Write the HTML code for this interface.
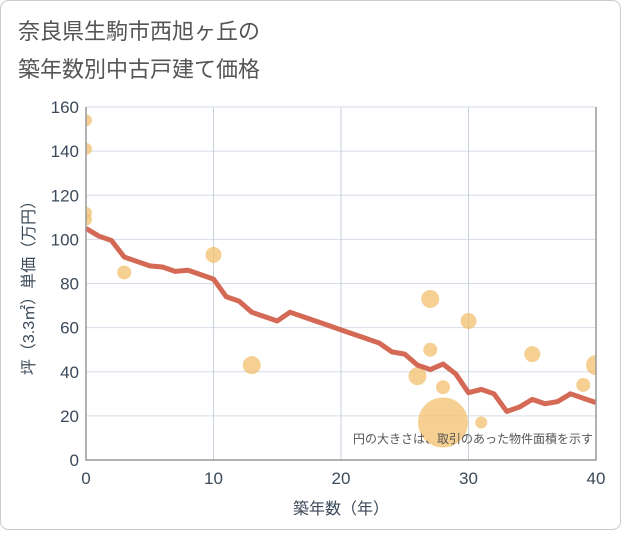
<!DOCTYPE html>
<html><head><meta charset="utf-8"><style>
body{margin:0;background:#fff}
#wrap{position:relative;width:621px;height:530px;font-family:"Liberation Sans","Noto Sans CJK JP",sans-serif}
</style></head><body>
<div id="wrap">
<svg width="621" height="530" id="svg">
<rect x="0.5" y="0.5" width="620" height="529" rx="8" fill="#fff" stroke="#ccc"/>
<text x="18" y="39" font-size="22" fill="#555">奈良県生駒市西旭ヶ丘の</text>
<text x="18" y="77" font-size="22" fill="#555">築年数別中古戸建て価格</text>
<g id="grid"></g><g id="marks"></g><g id="axes"></g>
<text x="593" y="443" font-size="12" fill="#555" text-anchor="end">円の大きさは、取引のあった物件面積を示す</text>
<text x="341" y="514" font-size="16" fill="#3b4a5a" text-anchor="middle">築年数（年）</text>
<text transform="translate(34,284) rotate(-90)" font-size="16" fill="#3b4a5a" text-anchor="middle">坪（3.3㎡）単価（万円）</text>
</svg></div>
<script>
const xTicks=[0,10,20,30,40];
const yTicks=[0,20,40,60,80,100,120,140,160];
const lineYears=[0,1,2,3,4,5,6,7,8,9,10,11,12,13,14,15,16,17,18,19,20,21,22,23,24,25,26,27,28,29,30,31,32,33,34,35,36,37,38,39,40];
const linePrices=[105,101.5,99.5,92,90,88,87.5,85.5,86,84,82,74,72,67,65,63,67,65,63,61,59,57,55,53,49,48,43,41,43.5,39,30.5,32,30,22,24,27.5,25.5,26.5,30,28,26];
const bubbleAges=[0,0,0,0,3,10,13,26,27,27,28,28,30,31,35,39,40];
const bubblePrices=[154,141,112,109,85,93,43,38,73,50,33,17,63,17,48,34,43];
const bubbleSizes=[6,6,6,6,7,8,9,9,9,7,7,25,8,6,8,7,10];
const X0=86,X1=596,Y0=460,Y1=107;
const sx=v=>X0+(X1-X0)*v/40, sy=v=>Y0-(Y0-Y1)*v/160;
const NS="http://www.w3.org/2000/svg";
function mk(t,p,g){const e=document.createElementNS(NS,t);for(const k in p)e.setAttribute(k,p[k]);document.getElementById(g).appendChild(e);return e;}
for(const t of yTicks){
 const l=mk('line',{x1:X0,x2:X1,y1:sy(t),y2:sy(t),stroke:'#d5dde8','stroke-width':1},'grid');
 
 
 const tx=mk('text',{x:X0-7,y:sy(t)+6,'font-size':17,fill:'#3b4a5a','text-anchor':'end'},'axes');tx.textContent=t;
 
 
}
for(const t of xTicks){
 const l=mk('line',{x1:sx(t),x2:sx(t),y1:Y1,y2:Y0,stroke:'#c8d2dc','stroke-width':1},'grid');
 
 
 const tx=mk('text',{x:sx(t),y:Y0+24,'font-size':17,fill:'#3b4a5a','text-anchor':'middle'},'axes');tx.textContent=t;
 
 
}
const ax=mk('path',{d:`M${X0} ${Y1}V${Y0}H${X1}V${Y1}`,fill:'none',stroke:'#999','stroke-width':1.5},'axes');


const cp=mk('clipPath',{id:'clip'},'marks');mk('rect',{x:X0,y:Y1-10,width:X1-X0,height:Y0-Y1+10},'clip');
for(let i=0;i<bubbleAges.length;i++){
 const c=mk('circle',{cx:sx(bubbleAges[i]),cy:sy(bubblePrices[i]),r:bubbleSizes[i],fill:'#f2c06e','fill-opacity':0.75,'clip-path':'url(#clip)'},'marks');
 
 
}
const pl=mk('polyline',{points:lineYears.map((y,i)=>sx(y)+','+sy(linePrices[i])).join(' '),fill:'none',stroke:'#d46a55','stroke-width':5,'stroke-linejoin':'round'},'marks');


</script>
</body></html>
